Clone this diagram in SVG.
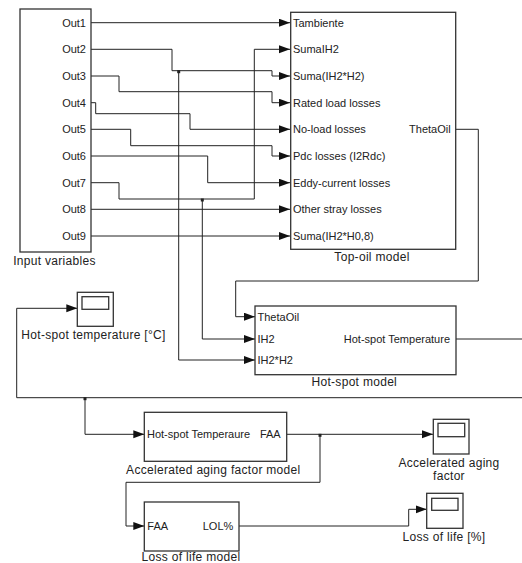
<svg xmlns="http://www.w3.org/2000/svg" width="522" height="563" viewBox="0 0 522 563">
<style>
.blk{fill:#fff;stroke:#333;stroke-width:1.3}
.w{fill:none;stroke:#222;stroke-width:1}
text{font-family:"Liberation Sans",Arial,sans-serif;font-size:11px;fill:#222}
.r{text-anchor:end}
.c{text-anchor:middle}
.lbl{font-size:12px;letter-spacing:0.3px;text-anchor:middle}
.dot{fill:#222}
</style>
<defs>
<marker id="a" markerUnits="userSpaceOnUse" markerWidth="12" markerHeight="9" refX="11" refY="4" orient="auto">
<path d="M0,0 L11,4 L0,8 z" fill="#111"/>
</marker>
</defs>
<g id="connectors">
<path class="w" d="M91,22.7 H290" marker-end="url(#a)"/>
<path class="w" d="M91,49.3 H172 V70.7 H272 V76 H290" marker-end="url(#a)"/>
<path class="w" d="M91,76 H119 V91.7 H272 V102.7 H290" marker-end="url(#a)"/>
<path class="w" d="M91,102.7 H95.7 V113.7 H190 V129.3 H290" marker-end="url(#a)"/>
<path class="w" d="M91,129.3 H130.7 V145.7 H272 V156 H290" marker-end="url(#a)"/>
<path class="w" d="M91,156 H207.7 V182.7 H290" marker-end="url(#a)"/>
<path class="w" d="M91,182.7 H119 V199 H254.3 V49.3 H290" marker-end="url(#a)"/>
<path class="w" d="M91,209.3 H290" marker-end="url(#a)"/>
<path class="w" d="M91,236 H290" marker-end="url(#a)"/>
<path class="w" d="M178.7,70.7 V360 H255" marker-end="url(#a)"/>
<rect class="dot" x="177.2" y="70.2" width="3" height="3"/>
<path class="w" d="M202.3,199 V339 H255" marker-end="url(#a)"/>
<rect class="dot" x="200.8" y="198.5" width="3" height="3"/>
<path class="w" d="M455.7,129.3 H478.3 V281 H235.7 V316.7 H255" marker-end="url(#a)"/>
<path class="w" d="M456,339 H522"/>
<path class="w" d="M522,397.7 H16.7 V308.3 H77.3" marker-end="url(#a)"/>
<path class="w" d="M85,397.7 V434.3 H144.3" marker-end="url(#a)"/>
<rect class="dot" x="83.5" y="397.2" width="3" height="3"/>
<path class="w" d="M286.7,434.3 H433" marker-end="url(#a)"/>
<path class="w" d="M320,434.3 V482.3 H126 V526 H144.3" marker-end="url(#a)"/>
<rect class="dot" x="318.5" y="433.8" width="3" height="3"/>
<path class="w" d="M239,526 H408.7 V509.3 H426.7" marker-end="url(#a)"/>
</g>
<g id="input-variables">
<rect class="blk" x="20" y="9" width="71" height="243"/>
<text class="r" x="86" y="26.7">Out1</text>
<text class="r" x="86" y="53.3">Out2</text>
<text class="r" x="86" y="80">Out3</text>
<text class="r" x="86" y="106.7">Out4</text>
<text class="r" x="86" y="133.3">Out5</text>
<text class="r" x="86" y="160">Out6</text>
<text class="r" x="86" y="186.7">Out7</text>
<text class="r" x="86" y="213.3">Out8</text>
<text class="r" x="86" y="240">Out9</text>
<text class="lbl" x="54.5" y="265">Input variables</text>
</g>
<g id="top-oil-model">
<rect class="blk" x="290.7" y="12.3" width="165" height="237"/>
<text x="293" y="26.7">Tambiente</text>
<text x="293" y="53.3">SumaIH2</text>
<text x="293" y="80">Suma(IH2*H2)</text>
<text x="293" y="106.7">Rated load losses</text>
<text x="293" y="133.3">No-load losses</text>
<text x="293" y="160">Pdc losses (I2Rdc)</text>
<text x="293" y="186.7">Eddy-current losses</text>
<text x="293" y="213.3">Other stray losses</text>
<text x="293" y="240">Suma(IH2*H0,8)</text>
<text class="r" x="450.7" y="133.3">ThetaOil</text>
<text class="lbl" x="372" y="261">Top-oil model</text>
</g>
<g id="hot-spot-model">
<rect class="blk" x="255" y="306" width="201" height="68.7"/>
<text x="257.5" y="320.7">ThetaOil</text>
<text x="257.5" y="343">IH2</text>
<text x="257.5" y="364">IH2*H2</text>
<text class="r" x="450" y="343">Hot-spot Temperature</text>
<text class="lbl" x="354.3" y="386">Hot-spot model</text>
</g>
<g id="hot-spot-scope">
<rect class="blk" x="77.3" y="292.3" width="36" height="34"/>
<rect class="blk" x="82" y="296.7" width="26.7" height="12.6"/>
<text class="lbl" x="93.5" y="339">Hot-spot temperature [°C]</text>
</g>
<g id="aging-factor-model">
<rect class="blk" x="144.3" y="412.3" width="142.4" height="49"/>
<text x="147" y="438.3">Hot-spot Temperaure</text>
<text class="r" x="280.7" y="438.3">FAA</text>
<text class="lbl" x="213.3" y="474">Accelerated aging factor model</text>
</g>
<g id="aging-scope">
<rect class="blk" x="433.3" y="419.3" width="35.7" height="34.7"/>
<rect class="blk" x="438" y="423.3" width="26.7" height="13.4"/>
<text class="lbl" x="449" y="466.5">Accelerated aging</text>
<text class="lbl" x="449" y="479.5">factor</text>
</g>
<g id="loss-of-life-model">
<rect class="blk" x="144.3" y="502" width="94.7" height="49"/>
<text x="147.3" y="530">FAA</text>
<text class="r" x="233.3" y="530">LOL%</text>
<text class="lbl" x="191" y="561">Loss of life model</text>
</g>
<g id="loss-of-life-scope">
<rect class="blk" x="426.7" y="493.3" width="36.3" height="35"/>
<rect class="blk" x="431.7" y="498.3" width="26.3" height="12"/>
<text class="lbl" x="444" y="540.5">Loss of life [%]</text>
</g>
</svg>
